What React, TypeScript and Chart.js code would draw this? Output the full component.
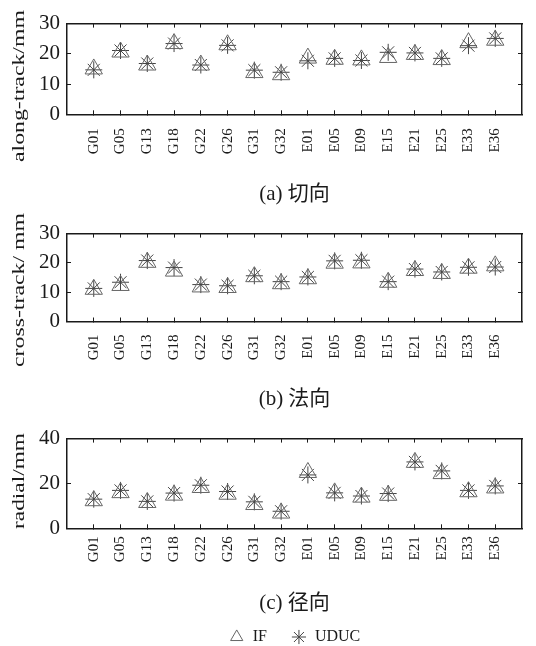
import React, { useEffect, useRef } from 'react';
import { Chart, registerables } from 'chart.js';

Chart.register(...registerables);

// ---------- data ----------
const satellites = ['G01', 'G05', 'G13', 'G18', 'G22', 'G26', 'G31', 'G32', 'E01', 'E05', 'E09', 'E15', 'E21', 'E25', 'E33', 'E36'];
const seriesNames = ['IF', 'UDUC'];

const alongIF = [15.0, 20.6, 16.3, 23.4, 16.3, 23.0, 13.8, 13.1, 18.6, 18.2, 18.0, 18.8, 19.8, 18.1, 23.7, 24.5];
const alongUDUC = [14.7, 21.1, 16.8, 23.4, 16.3, 22.8, 14.6, 13.9, 17.7, 18.5, 17.8, 20.5, 20.3, 18.5, 22.7, 25.1];

const crossIF = [11.0, 12.3, 20.2, 17.2, 11.8, 11.6, 15.3, 12.9, 14.6, 19.9, 20.0, 13.4, 17.4, 16.4, 18.2, 19.0];
const crossUDUC = [11.3, 13.4, 20.8, 18.4, 12.6, 12.2, 15.6, 13.6, 15.2, 20.7, 20.9, 13.6, 17.9, 16.9, 18.5, 18.6];

const radialIF = [12.3, 15.9, 11.5, 14.8, 18.2, 15.2, 10.6, 6.8, 24.9, 15.8, 13.9, 14.7, 29.4, 24.4, 16.3, 18.0];
const radialUDUC = [13.0, 16.9, 12.0, 15.7, 19.2, 16.4, 11.8, 7.6, 23.8, 15.8, 14.4, 15.5, 29.6, 25.6, 16.9, 18.9];

const yTicksAlong = [0, 10, 20, 30];
const yTicksCross = [0, 10, 20, 30];
const yTicksRadial = [0, 20, 40];

const captions = ['(a) 切向', '(b) 法向', '(c) 径向'];
const yTitles = ['along-track/mm', 'cross-track/ mm', 'radial/mm'];

// ---------- styling / layout ----------
const SERIF = '"Liberation Serif", "Times New Roman", "Noto Sans CJK SC", serif';
const INK = '#1a1a1a';

type Layout = {
  top: number; height: number; padTop: number; padBottom: number;
  xHeight: number; labelPad: number; titlePadBottom: number;
  yTitle: { cx: number; cy: number; len: number };
  legend: boolean;
};

const layouts: Layout[] = [
  { top: 0, height: 210, padTop: 17.5, padBottom: 3, xHeight: 67.5, labelPad: 18, titlePadBottom: 0, yTitle: { cx: 19.5, cy: 86, len: 152 }, legend: false },
  { top: 210, height: 205, padTop: 14.5, padBottom: 3, xHeight: 65.3, labelPad: 17, titlePadBottom: 0, yTitle: { cx: 19.5, cy: 80, len: 154 }, legend: false },
  { top: 415, height: 240, padTop: 18.5, padBottom: 0, xHeight: 62.5, labelPad: 12, titlePadBottom: -11, yTitle: { cx: 19.5, cy: 66, len: 96 }, legend: true },
];

function yTitlePlugin(text: string, cx: number, cy: number, len: number) {
  return {
    id: 'yTitleStretch',
    afterDraw(chart: any) {
      const ctx = chart.ctx as CanvasRenderingContext2D;
      ctx.save();
      ctx.font = `16px ${SERIF}`;
      const w = ctx.measureText(text).width;
      ctx.translate(cx, cy);
      ctx.rotate(-Math.PI / 2);
      ctx.scale(len / w, 1);
      ctx.fillStyle = INK;
      ctx.textAlign = 'center';
      ctx.textBaseline = 'middle';
      ctx.fillText(text, 0, 0);
      ctx.restore();
    },
  };
}

function buildConfig(p: Layout, ifData: number[], ucData: number[], yTickVals: number[], caption: string, yTitle: string): any {
  const yMax = yTickVals[yTickVals.length - 1];
  const xMax = satellites.length + 1;
  const toPts = (arr: number[]) => arr.map((v, i) => ({ x: i + 1, y: v }));
  const catTicks = (a: any) => { a.ticks = satellites.map((_, i) => ({ value: i + 1 })); };
  const valTicks = (a: any) => { a.ticks = yTickVals.map((v) => ({ value: v })); };
  const grid = { drawOnChartArea: false, drawTicks: true, tickLength: -4, tickColor: INK, tickWidth: 1, lineWidth: 1, color: INK };
  const border = { display: true, color: INK, width: 1.5 };

  return {
    type: 'scatter',
    data: {
      datasets: [
        {
          label: seriesNames[0],
          data: toPts(ifData),
          pointStyle: 'triangle',
          pointRadius: 10,
          pointHoverRadius: 10,
          borderColor: '#666666',
          backgroundColor: 'rgba(0,0,0,0)',
          borderWidth: 1,
          pointBorderWidth: 1,
        },
        {
          label: seriesNames[1],
          data: toPts(ucData),
          pointStyle: 'star',
          pointRadius: 8.5,
          pointHoverRadius: 8.5,
          borderColor: '#444444',
          backgroundColor: '#444444',
          borderWidth: 1,
          pointBorderWidth: 1,
        },
      ],
    },
    options: {
      responsive: false,
      animation: false,
      events: [],
      layout: { padding: { top: p.padTop, right: 14, bottom: p.padBottom, left: 0 } },
      scales: {
        x: {
          type: 'linear', position: 'bottom', min: 0, max: xMax,
          afterBuildTicks: catTicks,
          afterFit: (s: any) => { s.height = p.xHeight; },
          ticks: {
            autoSkip: false, minRotation: 90, maxRotation: 90, padding: p.labelPad, color: INK,
            font: { family: SERIF, size: 15 },
            callback: (v: number) => satellites[v - 1] ?? '',
          },
          grid, border,
        },
        x2: {
          type: 'linear', position: 'top', min: 0, max: xMax,
          afterBuildTicks: catTicks,
          afterFit: (s: any) => { s.height = 0; },
          ticks: { display: false },
          grid, border,
        },
        y: {
          type: 'linear', position: 'left', min: 0, max: yMax,
          afterBuildTicks: valTicks,
          afterFit: (s: any) => { s.width = 67; },
          ticks: { padding: 11, color: INK, font: { family: SERIF, size: 21 } },
          grid, border,
        },
        y2: {
          type: 'linear', position: 'right', min: 0, max: yMax,
          afterBuildTicks: valTicks,
          afterFit: (s: any) => { s.width = 0; },
          ticks: { display: false },
          grid, border,
        },
      },
      plugins: {
        tooltip: { enabled: false },
        title: {
          display: true, text: caption, position: 'bottom', fullSize: false,
          padding: { top: 0, bottom: p.titlePadBottom }, color: INK,
          font: { family: SERIF, size: 21, weight: 'normal', lineHeight: 1.2 },
        },
        legend: p.legend
          ? {
              display: true, position: 'bottom', fullSize: false, weight: 3000, align: 'center',
              labels: { usePointStyle: true, boxHeight: 10, padding: 24, color: INK, font: { family: SERIF, size: 16 } },
            }
          : { display: false },
      },
    },
    plugins: [yTitlePlugin(yTitle, p.yTitle.cx, p.yTitle.cy, p.yTitle.len)],
  };
}

const panelData: [number[], number[], number[]][] = [
  [alongIF, alongUDUC, yTicksAlong],
  [crossIF, crossUDUC, yTicksCross],
  [radialIF, radialUDUC, yTicksRadial],
];

export default function App() {
  const refs = [useRef<HTMLCanvasElement>(null), useRef<HTMLCanvasElement>(null), useRef<HTMLCanvasElement>(null)];

  useEffect(() => {
    const charts: Chart[] = [];
    layouts.forEach((p, i) => {
      const c = refs[i].current;
      if (!c) return;
      const [a, b, t] = panelData[i];
      charts.push(new Chart(c, buildConfig(p, a, b, t, captions[i], yTitles[i])));
    });
    return () => { charts.forEach((ch) => ch.destroy()); };
  }, []);

  return (
    <div style={{ position: 'absolute', left: 0, top: 0, width: 536, height: 646, overflow: 'hidden', background: '#fff' }}>
      {layouts.map((p, i) => (
        <canvas
          key={i}
          ref={refs[i]}
          width={536}
          height={p.height}
          style={{ position: 'absolute', left: 0, top: p.top, width: 536, height: p.height, display: 'block' }}
        />
      ))}
    </div>
  );
}
